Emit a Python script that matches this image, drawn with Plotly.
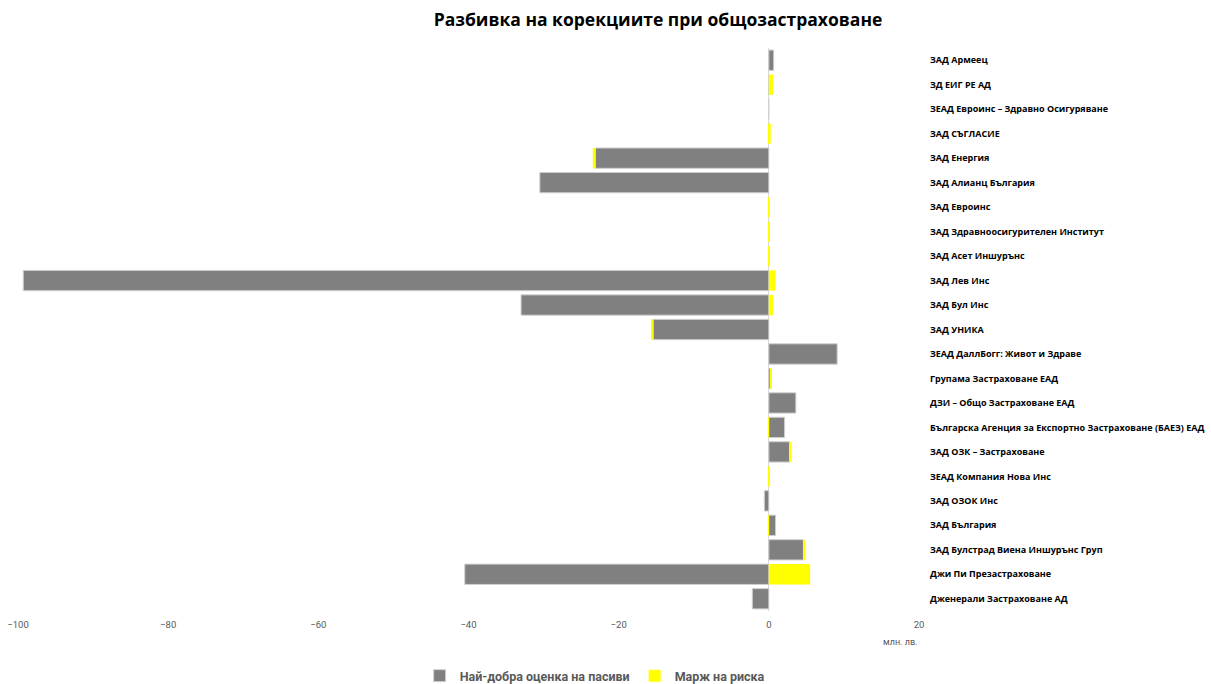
import plotly.graph_objects as go

categories = [
    "ЗАД Армеец",
    "ЗД ЕИГ РЕ АД",
    "ЗЕАД Евроинс – Здравно Осигуряване",
    "ЗАД СЪГЛАСИЕ",
    "ЗАД Енергия",
    "ЗАД Алианц България",
    "ЗАД Евроинс",
    "ЗАД Здравноосигурителен Институт",
    "ЗАД Асет Иншурънс",
    "ЗАД Лев Инс",
    "ЗАД Бул Инс",
    "ЗАД УНИКА",
    "ЗЕАД ДаллБогг: Живот и Здраве",
    "Групама Застраховане ЕАД",
    "ДЗИ – Общо Застраховане ЕАД",
    "Българска Агенция за Експортно Застраховане (БАЕЗ) ЕАД",
    "ЗАД ОЗК – Застраховане",
    "ЗЕАД Компания Нова Инс",
    "ЗАД ОЗОК Инс",
    "ЗАД България",
    "ЗАД Булстрад Виена Иншурънс Груп",
    "Джи Пи Презастраховане",
    "Дженерали Застраховане АД",
]

best_estimate = [0.65, 0.0, 0.0, 0.0, -23.1, -30.5, 0.0, 0.0, 0.0, -99.3, -33.0, -15.4,
                 9.1, 0.2, 3.6, 2.1, 2.8, 0.0, -0.6, 0.9, 4.6, -40.5, -2.2]
risk_margin = [0.0, 0.55, 0.0, 0.25, -0.35, 0.0, 0.02, 0.05, 0.1, 0.9, 0.55, -0.3,
               0.0, 0.1, 0.0, -0.05, 0.2, 0.05, 0.0, -0.05, 0.15, 5.5, 0.0]

series_names = ["Най-добра оценка на пасиви", "Марж на риска"]
x_ticks = [-100, -80, -60, -40, -20, 0, 20]

fig = go.Figure()
fig.add_trace(go.Bar(
    y=categories, x=best_estimate, orientation="h", name=series_names[0],
    marker=dict(color="#808080", line=dict(color="#d0d0d0", width=1)),
))
fig.add_trace(go.Bar(
    y=categories, x=risk_margin, orientation="h", name=series_names[1],
    marker=dict(color="#FFFF00", line=dict(color="#FFFF00", width=0)),
))

font_family = "Open Sans, Noto Sans, sans-serif"
narrow = "Liberation Sans Narrow, Roboto, sans-serif"

fig.update_layout(
    barmode="relative",
    bargap=0.17,
    width=1211, height=684,
    margin=dict(l=18, r=292, t=48, b=73, autoexpand=False),
    paper_bgcolor="white", plot_bgcolor="white",
    title=dict(
        text="<b>Разбивка на корекциите при общозастраховане</b>",
        x=658 / 1211, xanchor="center", y=1 - 20 / 684, yanchor="middle",
        font=dict(family=font_family, size=17.5, color="#000000"),
    ),
    xaxis=dict(
        range=[-100, 20], tickvals=x_ticks, showgrid=False,
        zeroline=True, zerolinecolor="#d9d9d9", zerolinewidth=1,
        showline=False, ticks="", ticklabelstandoff=6,
        tickfont=dict(family=narrow, size=9.5, color="#595959"),
    ),
    yaxis=dict(
        side="right", autorange="reversed", showgrid=False, showline=False, ticks="",
        tickfont=dict(family=font_family, size=9, color="#000000", weight="bold"),
        ticklabelstandoff=10,
    ),
    legend=dict(
        orientation="h", x=0.64, xanchor="center", y=-0.1155, yanchor="middle",
        font=dict(family=narrow, size=12.5, color="#595959", weight="bold"),
        itemwidth=30, traceorder="normal",
    ),
    annotations=[dict(
        text="млн. лв.", x=20, xref="x", y=-0.055, yref="paper",
        xanchor="right", yanchor="middle", showarrow=False,
        font=dict(family=narrow, size=9, color="#595959"),
    )],
)

fig.write_html("out.html")
